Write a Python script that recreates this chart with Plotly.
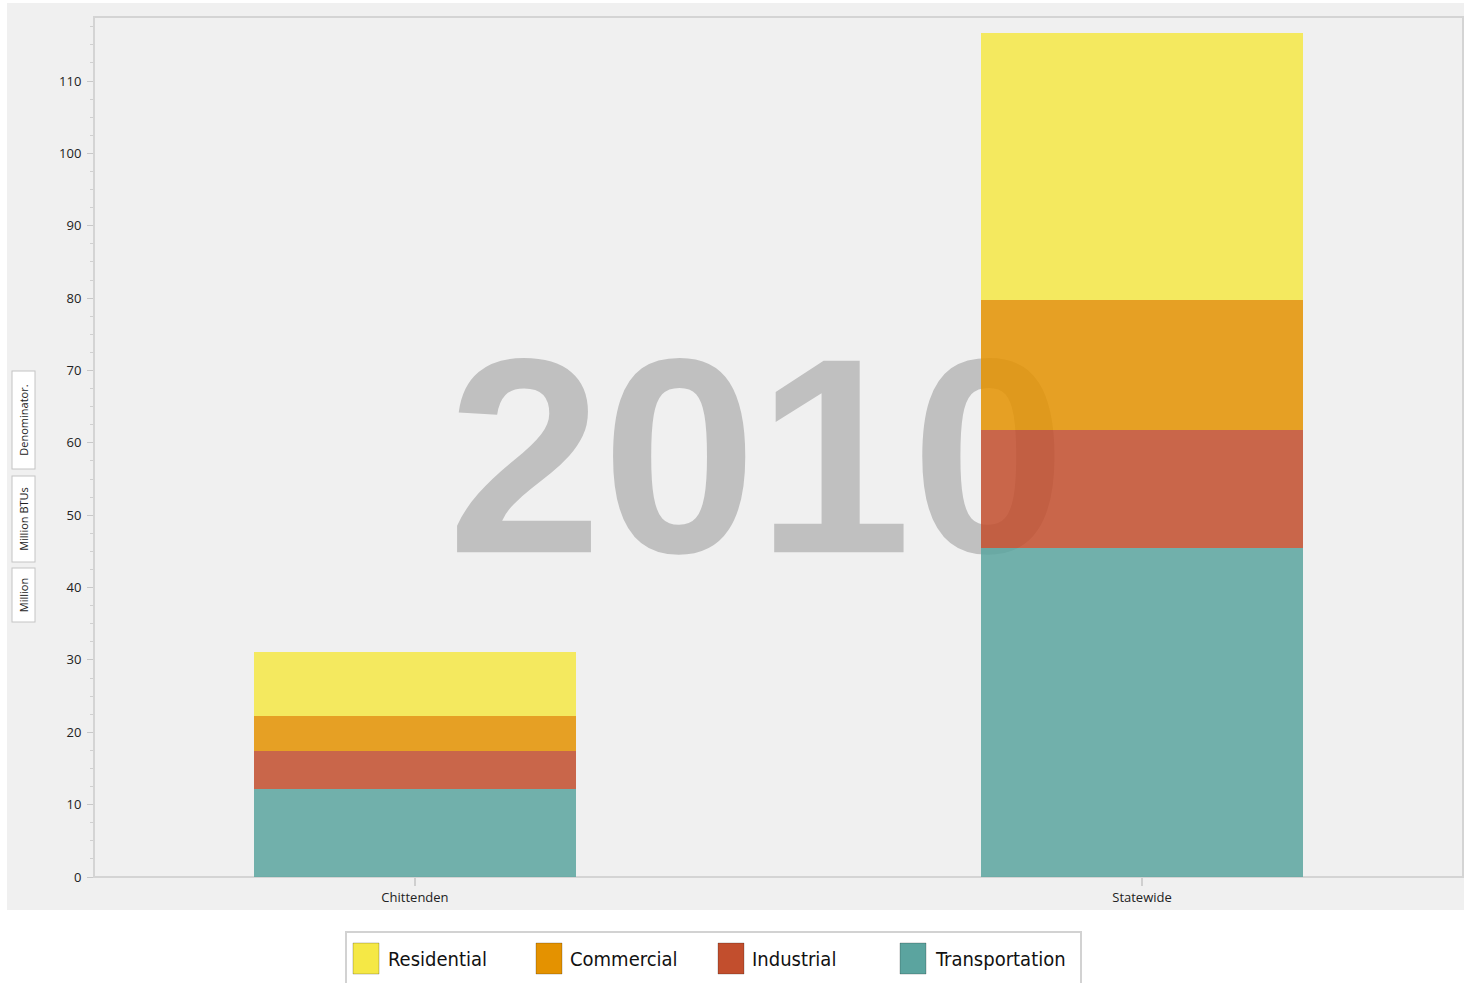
import plotly.graph_objects as go

# ---- data (Million BTUs per county denominator, 2010) ----
regions = ["Chittenden", "Statewide"]
sectors = ["Transportation", "Industrial", "Commercial", "Residential"]
transportation = [12.2, 45.5]
industrial = [5.2, 16.3]
commercial = [4.85, 18.0]
residential = [8.85, 36.8]
year_label = "2010"
y_ticks = [0, 10, 20, 30, 40, 50, 60, 70, 80, 90, 100, 110]
axis_title_parts = ["Million", "Million BTUs", "Denominator."]
legend_order = ["Residential", "Commercial", "Industrial", "Transportation"]

series = {
    "Transportation": transportation,
    "Industrial": industrial,
    "Commercial": commercial,
    "Residential": residential,
}
colors = {
    "Residential": "#f5e845",
    "Commercial": "#e49200",
    "Industrial": "#c24e2d",
    "Transportation": "#5ba49f",
}

W, H = 1464, 983
ML, MR, MT, MB = 94, 1, 17, 106
PW, PH = W - ML - MR, H - MT - MB


def px(x):
    return (x - ML) / PW


def py(y):
    return (H - MB - y) / PH


xpos = list(range(len(regions)))
fig = go.Figure()

# large year watermark sitting behind the bars
fig.add_trace(go.Scatter(
    x=[0.47], y=[54.5], mode="text", text=[year_label],
    textposition="middle center",
    textfont=dict(family="Liberation Sans, Arial, sans-serif", size=278,
                  color="#c0c0c0", weight="bold"),
    hoverinfo="skip", showlegend=False, zorder=-1,
))

for name in sectors:
    fig.add_trace(go.Bar(
        x=xpos, y=series[name], name=name, width=0.444,
        marker=dict(color=colors[name], line=dict(width=0)),
        opacity=0.85, showlegend=False, hoverinfo="skip", zorder=0,
    ))

shapes = []
annotations = []

# outer grey panel of the chart control
shapes.append(dict(type="rect", xref="paper", yref="paper",
                   x0=px(7), x1=px(1466), y0=py(910), y1=py(3),
                   fillcolor="#f0f0f0", line=dict(width=0), layer="below"))
# plot area frame
shapes.append(dict(type="rect", xref="paper", yref="paper",
                   x0=0, x1=1, y0=0, y1=1, fillcolor="rgba(0,0,0,0)",
                   line=dict(color="#d4d4d4", width=2), layer="below"))

# stacked y-axis caption boxes
box_centres = [595.5, 519.5, 420.5]
box_lengths = [47, 79, 91]
for text, cy, ln in zip(axis_title_parts, box_centres, box_lengths):
    annotations.append(dict(
        text=text, xref="paper", yref="paper", x=px(23), y=py(cy),
        showarrow=False, textangle=-90, width=ln, height=16,
        font=dict(family="Open Sans, sans-serif", size=11, color="#222222"),
        bgcolor="#ffffff", bordercolor="#c4c4c4", borderwidth=1, borderpad=3,
        xanchor="center", yanchor="middle",
    ))

# legend panel
shapes.append(dict(type="rect", xref="paper", yref="paper",
                   x0=px(346), x1=px(1081), y0=py(995), y1=py(932),
                   fillcolor="#ffffff", line=dict(color="#d2d2d2", width=2)))
swatch_x = [353, 536, 718, 900]
text_x = [386, 568, 750, 933]
for name, sx, tx in zip(legend_order, swatch_x, text_x):
    shapes.append(dict(type="rect", xref="paper", yref="paper",
                       x0=px(sx), x1=px(sx + 26), y0=py(974), y1=py(943),
                       fillcolor=colors[name],
                       line=dict(color="rgba(0,0,0,0.22)", width=1)))
    annotations.append(dict(
        text=name, xref="paper", yref="paper", x=px(tx), y=py(958.5),
        showarrow=False, xanchor="left", yanchor="middle",
        font=dict(family="Liberation Sans Narrow, DejaVu Sans Condensed, Liberation Sans, sans-serif",
                  size=20, color="#111111"),
    ))

fig.update_layout(
    width=W, height=H,
    margin=dict(l=ML, r=MR, t=MT, b=MB, pad=0),
    paper_bgcolor="#ffffff", plot_bgcolor="#f0f0f0",
    barmode="stack", bargap=0, hovermode=False,
    shapes=shapes, annotations=annotations,
    font=dict(family="Open Sans, sans-serif", size=13, color="#222222"),
)
fig.update_xaxes(
    range=[-0.4415, 1.4415], tickvals=xpos, ticktext=regions,
    showgrid=False, zeroline=False, showline=False,
    ticks="outside", ticklen=8, tickwidth=2, tickcolor="#cfcfcf",
    tickfont=dict(size=13, color="#222222"),
)
fig.update_yaxes(
    range=[0, 118.85], tickvals=y_ticks,
    showgrid=False, zeroline=False, showline=False,
    ticks="outside", ticklen=6, tickwidth=1, tickcolor="#c8c8c8",
    tickfont=dict(size=13, color="#222222"), ticklabelstandoff=3,
    minor=dict(dtick=2.5, ticks="outside", ticklen=3, tickwidth=1,
               tickcolor="#d0d0d0", showgrid=False),
)

fig.write_html("out.html")
